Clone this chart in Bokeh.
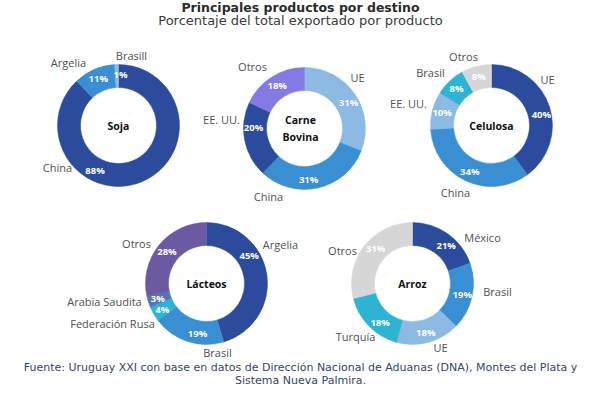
import math
from bokeh.plotting import figure
from bokeh.models import Range1d, ColumnDataSource
from bokeh.core.properties import value
from bokeh.embed import file_html
from bokeh.resources import INLINE

# ---------------- data ----------------
soja_dest = ["China", "Argelia", "Brasill"]
soja_vals = [88, 11, 1]

carne_dest = ["UE", "China", "EE. UU.", "Otros"]
carne_vals = [31, 31, 20, 18]

celulosa_dest = ["UE", "China", "EE. UU.", "Brasil", "Otros"]
celulosa_vals = [40, 34, 10, 8, 8]

lacteos_dest = ["Argelia", "Brasil", "Federación Rusa", "Arabia Saudita", "Otros"]
lacteos_vals = [45, 19, 4, 3, 28]

arroz_dest = ["México", "Brasil", "UE", "Turquía", "Otros"]
arroz_vals = [21, 19, 18, 18, 31]

# ---------------- styles / layout ----------------
NAVY = "#2d4b9c"
MED = "#3a8ed2"
LIGHT = "#8cbae2"
CYAN = "#2cb4d2"
GRAY = "#d6d6d6"
LAV = "#8579e6"
PURP = "#6b5aa1"
SLATE = "#5873b3"

W, H = 600, 397
R_OUT, R_IN, R_LAB = 61, 38, 51

donuts = [
    dict(name="Soja", dest=soja_dest, vals=soja_vals, cx=118, cy=125,
         colors=[NAVY, MED, LIGHT], nudge=[49, 0, 4],
         lab=[(-61, 42), (-50, -63), (13, -70)]),
    dict(name="Carne\nBovina", dest=carne_dest, vals=carne_vals, cx=304, cy=128,
         colors=[LIGHT, MED, NAVY, LAV], nudge=[4, 8, 12, 0],
         lab=[(53, -51), (-36, 68), (-83, -9), (-52, -62)]),
    dict(name="Celulosa", dest=celulosa_dest, vals=celulosa_vals, cx=491, cy=125,
         colors=[NAVY, MED, LIGHT, CYAN, GRAY], nudge=[6, 0, 0, 0, 0],
         lab=[(56, -46), (-36, 67), (-83, -22), (-61, -53), (-28, -69)]),
    dict(name="Lácteos", dest=lacteos_dest, vals=lacteos_vals, cx=206, cy=283,
         colors=[NAVY, MED, CYAN, SLATE, PURP], nudge=[-25, -8, 0, 0, 0],
         lab=[(74, -39), (11, 69), (-94, 40), (-102, 18), (-70, -40)]),
    dict(name="Arroz", dest=arroz_dest, vals=arroz_vals, cx=412, cy=283,
         colors=[NAVY, MED, LIGHT, CYAN, GRAY], nudge=[6, 0, 0, -6, 6],
         lab=[(70, -46), (85, 8), (28, 64), (-57, 53), (-70, -33)]),
]

p = figure(width=W, height=H, output_backend="svg", toolbar_location=None,
           x_range=Range1d(0, W), y_range=Range1d(0, H),
           min_border=0, outline_line_color=None)
p.axis.visible = False
p.grid.visible = False
p.background_fill_color = "white"
p.border_fill_color = "white"


def Y(py):
    return H - py


LABEL_FONT = value("Open Sans")

for d in donuts:
    total = float(sum(d["vals"]))
    cum = 0.0
    starts, ends, px, py, pct = [], [], [], [], []
    for v, nd in zip(d["vals"], d["nudge"]):
        f0 = cum / total
        f1 = (cum + v) / total
        starts.append(math.pi / 2 - 2 * math.pi * f0)
        ends.append(math.pi / 2 - 2 * math.pi * f1)
        mid = math.radians(360 * (f0 + f1) / 2 + nd)
        px.append(d["cx"] + R_LAB * math.sin(mid))
        py.append(Y(d["cy"] - R_LAB * math.cos(mid)))
        pct.append(f"{v}%")
        cum += v
    src = ColumnDataSource(dict(start=starts, end=ends, color=d["colors"],
                                x=[d["cx"]] * len(starts), y=[Y(d["cy"])] * len(starts)))
    p.annular_wedge(x="x", y="y", inner_radius=R_IN, outer_radius=R_OUT,
                    inner_radius_units="screen", outer_radius_units="screen",
                    start_angle="start", end_angle="end", direction="clock",
                    fill_color="color", line_color="color", line_width=0.5, source=src)
    p.text(x=px, y=py, text=pct, text_color="white", text_font=value("Open Sans"),
           text_font_style="bold", text_font_size="9.5px",
           text_align="center", text_baseline="middle")
    lx = [d["cx"] + o[0] for o in d["lab"]]
    ly = [Y(d["cy"] + o[1]) for o in d["lab"]]
    p.text(x=lx, y=ly, text=d["dest"], text_color="#505050", text_font=LABEL_FONT,
           text_font_size="11px", text_align="center", text_baseline="middle")
    p.text(x=[d["cx"] - (4 if "\n" in d["name"] else 0)], y=[Y(d["cy"])], text=[d["name"]],
           text_color="#111111", text_font=value("Open Sans"), text_font_style="bold",
           text_font_size="10.5px", text_align="center", text_baseline="middle",
           text_line_height=1.15)

# titles
p.text(x=[300], y=[Y(6.5)], text=["Principales productos por destino"],
       text_color="#2a2a2a", text_font=value("DejaVu Sans"), text_font_style="bold",
       text_font_size="12.5px", text_align="center", text_baseline="middle")
p.text(x=[300], y=[Y(20)], text=["Porcentaje del total exportado por producto"],
       text_color="#3a3a3a", text_font=value("DejaVu Sans"),
       text_font_size="13px", text_align="center", text_baseline="middle")

# footer
p.text(x=[300, 300], y=[Y(367), Y(380)],
       text=["Fuente: Uruguay XXI con base en datos de Dirección Nacional de Aduanas (DNA), Montes del Plata y",
             "Sistema Nueva Palmira."],
       text_color="#34456b", text_font=value("DejaVu Sans"),
       text_font_size="11px", text_align="center", text_baseline="middle")

open("out.html", "w").write(file_html(p, INLINE))
